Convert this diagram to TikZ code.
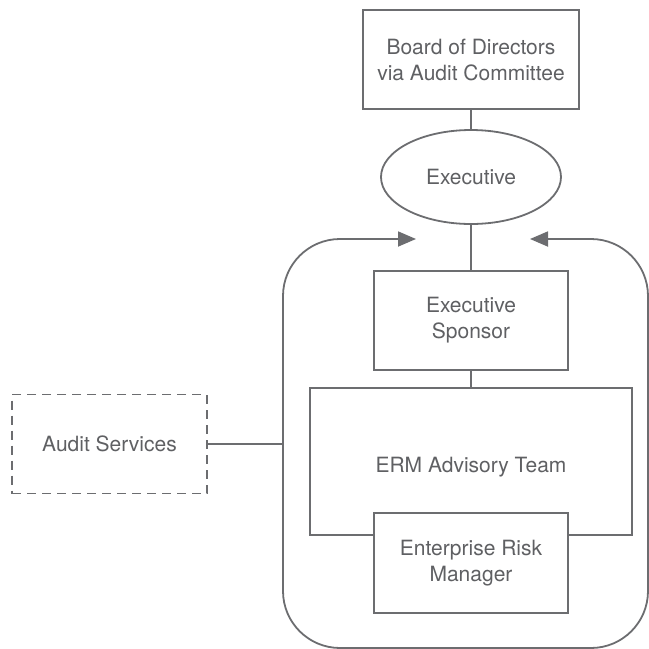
\documentclass[tikz,border=0pt]{standalone}
\usepackage{fontspec}
\setmainfont{TeX Gyre Heros}
\usetikzlibrary{shapes.geometric,arrows.meta}
\definecolor{linec}{RGB}{108,109,112}
\definecolor{textc}{RGB}{95,96,99}
\tikzset{
  base/.style={draw=linec, line width=1.8pt, text=textc, inner sep=0pt, align=center, font=\fontsize{21}{26}\selectfont},
  boxnode/.style={base, rectangle, fill=white},
  ovalnode/.style={base, ellipse},
  dashnode/.style={base, rectangle, dash pattern=on 9pt off 6pt},
  conn/.style={draw=linec, line width=1.8pt},
  tip/.style={-{Triangle[length=18pt,width=15pt]}}
}
\begin{document}
\begin{tikzpicture}[x=1pt,y=-1pt]
\useasboundingbox (0,0) rectangle (649,649);
\node[boxnode, minimum width=216pt, minimum height=99pt] (board) at (471,59.5) {Board of Directors\\via Audit Committee};
\node[ovalnode, minimum width=180pt, minimum height=94pt] (exec) at (471,177) {Executive};
\node[boxnode, minimum width=194pt, minimum height=99pt] (sponsor) at (471,320.5) {Executive\\Sponsor};
\node[boxnode, minimum width=322pt, minimum height=147pt] (erm) at (471,461.5) {};
\node[text=textc, font=\fontsize{21}{26}\selectfont] (ermlabel) at (471,467) {ERM Advisory Team};
\node[boxnode, minimum width=194pt, minimum height=100pt] (mgr) at (471,563) {Enterprise Risk\\Manager};
\node[dashnode, minimum width=195pt, minimum height=99pt] (audit) at (109.5,444) {Audit Services};
\coordinate (lt) at (416,239);
\coordinate (rt) at (530,239);
\coordinate (loopL) at (283,444);
\draw[conn] (board) -- (exec);
\draw[conn] (exec) -- (sponsor);
\draw[conn] (sponsor) -- (erm);
\draw[conn] (audit) -- (loopL);
\draw[conn, {Triangle[length=18pt,width=15pt]}-{Triangle[length=18pt,width=15pt]}, rounded corners=57pt]
  (lt) -- (283,239) -- (283,648) -- (648,648) -- (648,239) -- (rt);
\end{tikzpicture}
\end{document}
